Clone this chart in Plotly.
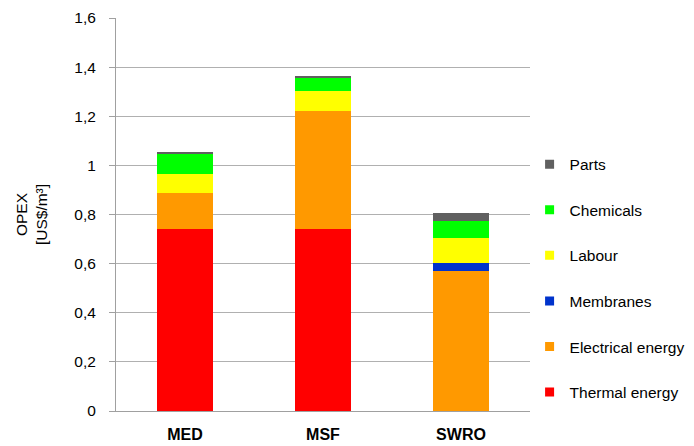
import plotly.graph_objects as go

# OPEX breakdown per desalination technology (US$/m³)
technologies = ["MED", "MSF", "SWRO"]
thermal_energy = [0.74, 0.74, 0.0]
electrical_energy = [0.146, 0.483, 0.570]
membranes = [0.0, 0.0, 0.033]
labour = [0.08, 0.08, 0.10]
chemicals = [0.08, 0.052, 0.071]
parts = [0.009, 0.009, 0.031]

components = [
    ("Thermal energy", thermal_energy, "#FF0000"),
    ("Electrical energy", electrical_energy, "#FF9900"),
    ("Membranes", membranes, "#0033CC"),
    ("Labour", labour, "#FFFF00"),
    ("Chemicals", chemicals, "#00FF00"),
    ("Parts", parts, "#606060"),
]

y_ticks = [0, 0.2, 0.4, 0.6, 0.8, 1.0, 1.2, 1.4, 1.6]
y_tick_labels = ["0", "0,2", "0,4", "0,6", "0,8", "1", "1,2", "1,4", "1,6"]

fig = go.Figure()

# stacked segments, bottom to top
for name, values, color in components:
    fig.add_trace(go.Bar(
        x=technologies,
        y=values,
        name=name,
        showlegend=False,
        marker=dict(color=color, line=dict(width=0)),
    ))

# small square legend keys, top of stack listed first
for name, values, color in reversed(components):
    fig.add_trace(go.Scatter(
        x=[None],
        y=[None],
        mode="markers",
        name=name,
        legendgroup=name,
        marker=dict(symbol="square", size=9, color=color),
    ))

font_family = "Liberation Sans, Arial, sans-serif"

fig.update_layout(
    width=694,
    height=446,
    barmode="stack",
    bargap=0.6,
    plot_bgcolor="white",
    paper_bgcolor="white",
    margin=dict(l=116, r=164, t=18, b=35, autoexpand=False),
    font=dict(family=font_family, size=15, color="#000000"),
    showlegend=True,
    legend=dict(
        traceorder="grouped",
        tracegroupgap=22.4,
        x=0.999,
        xanchor="left",
        y=0.67,
        yanchor="top",
        font=dict(size=15.5),
        bgcolor="rgba(0,0,0,0)",
        itemwidth=30,
    ),
    xaxis=dict(
        automargin=False,
        showgrid=False,
        showline=True,
        linecolor="#A0A0A0",
        linewidth=1,
        ticks="",
        ticklabelstandoff=9,
        tickfont=dict(size=16, family=font_family, color="#000000", weight="bold"),
    ),
    yaxis=dict(
        automargin=False,
        range=[0, 1.6],
        tickvals=y_ticks,
        ticktext=y_tick_labels,
        showgrid=True,
        gridcolor="#B0B0B0",
        gridwidth=1,
        showline=True,
        linecolor="#A0A0A0",
        linewidth=1,
        ticks="outside",
        ticklen=6,
        tickcolor="#A0A0A0",
        ticklabelstandoff=10,
        tickfont=dict(size=15.5),
        zeroline=False,
        title=dict(text="OPEX<br>[US$/m³]", font=dict(size=15.5), standoff=22),
    ),
)

fig.write_html("out.html")
